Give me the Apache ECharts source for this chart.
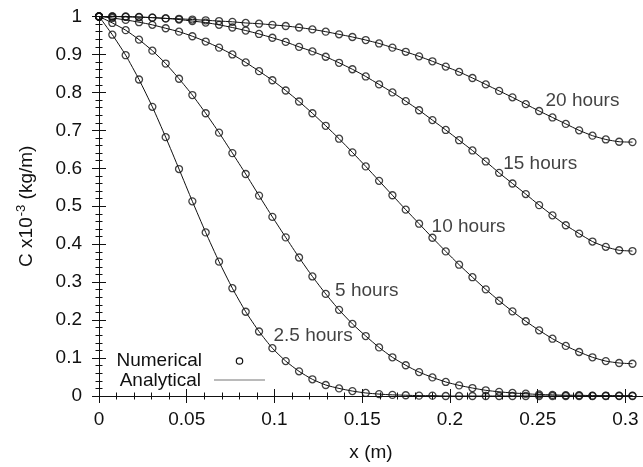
<!DOCTYPE html>
<html>
<head>
<meta charset="utf-8">
<script src="https://cdn.jsdelivr.net/npm/echarts@6/dist/echarts.min.js"></script>
<style>
html,body{margin:0;padding:0;background:#fff;}
#chart{width:643px;height:467px;}
</style>
</head>
<body>
<div id="chart"></div>
<script>
// x positions of the computed nodes (m)
const xs = [0, 0.0076, 0.0152, 0.0228, 0.0304, 0.038, 0.0456, 0.0532, 0.0608, 0.0684,
  0.076, 0.0836, 0.0912, 0.0988, 0.1064, 0.114, 0.1216, 0.1292, 0.1368, 0.1444,
  0.152, 0.1596, 0.1672, 0.1748, 0.1824, 0.19, 0.1976, 0.2052, 0.2128, 0.2204,
  0.228, 0.2356, 0.2432, 0.2508, 0.2584, 0.266, 0.2736, 0.2812, 0.2888, 0.2964, 0.304];

const c2_5h = [1.000, 0.952, 0.898, 0.834, 0.762, 0.682, 0.598, 0.513, 0.431, 0.354,
  0.284, 0.222, 0.170, 0.126, 0.092, 0.065, 0.044, 0.029, 0.020, 0.013,
  0.008, 0.005, 0.003, 0.002, 0.001, 0.001, 0, 0, 0, 0,
  0, 0, 0, 0, 0, 0, 0, 0, 0, 0, 0];

const c5h = [1.000, 0.983, 0.964, 0.939, 0.910, 0.876, 0.836, 0.793, 0.745, 0.694,
  0.640, 0.585, 0.528, 0.472, 0.418, 0.365, 0.315, 0.269, 0.227, 0.190,
  0.158, 0.128, 0.102, 0.081, 0.063, 0.049, 0.037, 0.028, 0.021, 0.015,
  0.011, 0.008, 0.006, 0.004, 0.003, 0.002, 0.002, 0.001, 0.001, 0.001, 0.001];

const c10h = [1.000, 0.996, 0.991, 0.985, 0.978, 0.969, 0.960, 0.948, 0.934, 0.918,
  0.900, 0.879, 0.856, 0.832, 0.805, 0.776, 0.745, 0.712, 0.678, 0.642,
  0.605, 0.567, 0.529, 0.491, 0.454, 0.417, 0.381, 0.346, 0.313, 0.281,
  0.251, 0.223, 0.197, 0.173, 0.151, 0.132, 0.116, 0.102, 0.092, 0.087, 0.085];

const c15h = [1.000, 1.000, 1.000, 0.999, 0.997, 0.995, 0.992, 0.988, 0.984, 0.978,
  0.971, 0.963, 0.954, 0.944, 0.933, 0.920, 0.908, 0.894, 0.878, 0.861,
  0.842, 0.821, 0.800, 0.777, 0.753, 0.727, 0.701, 0.674, 0.647, 0.618,
  0.588, 0.560, 0.532, 0.503, 0.476, 0.450, 0.428, 0.407, 0.393, 0.384, 0.382];

const c20h = [1.000, 1.000, 0.999, 0.998, 0.997, 0.995, 0.994, 0.992, 0.990, 0.988,
  0.986, 0.983, 0.981, 0.978, 0.975, 0.971, 0.966, 0.960, 0.953, 0.946,
  0.938, 0.929, 0.918, 0.907, 0.895, 0.882, 0.868, 0.854, 0.838, 0.821,
  0.804, 0.787, 0.769, 0.751, 0.734, 0.717, 0.700, 0.686, 0.676, 0.670, 0.669];

const curveNames = ['2.5 hours', '5 hours', '10 hours', '15 hours', '20 hours'];
const curveValues = [c2_5h, c5h, c10h, c15h, c20h];

// curve annotations: [text, x (m), C]
const curveLabels = [
  ['20 hours', 0.2755, 0.777],
  ['15 hours', 0.2514, 0.611],
  ['10 hours', 0.2106, 0.446],
  ['5 hours', 0.1526, 0.276],
  ['2.5 hours', 0.122, 0.160]
];

const legendNames = ['Numerical', 'Analytical'];

const FONT = '"Liberation Sans", Arial, Helvetica, sans-serif';
const INK = '#111';

const chart = echarts.init(document.getElementById('chart'), null, {renderer: 'canvas'});

const X_MAX = 0.31;
function fmt(v) { return String(+(+v).toFixed(2)); }

const xAxes = [
  { // bottom major
    type: 'value', position: 'bottom', min: 0, max: X_MAX, interval: 0.05,
    axisLine: {show: true, lineStyle: {color: INK, width: 1}},
    axisTick: {show: true, inside: true, length: 7, lineStyle: {color: INK}},
    axisLabel: {show: true, margin: 14, fontSize: 19, fontFamily: FONT, color: INK,
      showMaxLabel: false, formatter: fmt},
    splitLine: {show: false},
    name: 'x (m)', nameLocation: 'middle', nameGap: 47,
    nameTextStyle: {fontSize: 19, fontFamily: FONT, color: INK}
  },
  { // bottom minor
    type: 'value', position: 'bottom', min: 0, max: X_MAX, interval: 0.01,
    axisLine: {show: false},
    axisTick: {show: true, inside: true, length: 3.5, lineStyle: {color: INK}},
    axisLabel: {show: false}, splitLine: {show: false}
  },
  { // top major
    type: 'value', position: 'top', min: 0, max: X_MAX, interval: 0.05,
    axisLine: {show: true, lineStyle: {color: INK, width: 1}},
    axisTick: {show: true, inside: true, length: 7, lineStyle: {color: INK}},
    axisLabel: {show: false}, splitLine: {show: false}
  },
  { // top minor
    type: 'value', position: 'top', min: 0, max: X_MAX, interval: 0.01,
    axisLine: {show: false},
    axisTick: {show: true, inside: true, length: 3.5, lineStyle: {color: INK}},
    axisLabel: {show: false}, splitLine: {show: false}
  }
];

const yAxes = [
  { // left major
    type: 'value', position: 'left', min: 0, max: 1, interval: 0.1,
    axisLine: {show: true, lineStyle: {color: INK, width: 1}},
    axisTick: {show: true, inside: true, length: 7, lineStyle: {color: INK}},
    axisLabel: {show: true, margin: 17, fontSize: 19, fontFamily: FONT, color: INK, formatter: fmt},
    splitLine: {show: false},
    name: '{n|C x10}{s|-3}{n| (kg/m)}', nameLocation: 'middle', nameRotate: 90, nameGap: 60,
    nameTextStyle: {
      fontFamily: FONT, color: INK,
      rich: {
        n: {fontSize: 19, fontFamily: FONT, color: INK, lineHeight: 24},
        s: {fontSize: 13, fontFamily: FONT, color: INK, lineHeight: 24, verticalAlign: 'top', padding: [0, 0, 0, 1]}
      }
    }
  },
  { // left minor
    type: 'value', position: 'left', min: 0, max: 1, interval: 0.02,
    axisLine: {show: false},
    axisTick: {show: true, inside: true, length: 3.5, lineStyle: {color: INK}},
    axisLabel: {show: false}, splitLine: {show: false}
  },
  { // right major
    type: 'value', position: 'right', min: 0, max: 1, interval: 0.1,
    axisLine: {show: true, lineStyle: {color: INK, width: 1}},
    axisTick: {show: true, inside: true, length: 7, lineStyle: {color: INK}},
    axisLabel: {show: false}, splitLine: {show: false}
  },
  { // right minor
    type: 'value', position: 'right', min: 0, max: 1, interval: 0.02,
    axisLine: {show: false},
    axisTick: {show: true, inside: true, length: 3.5, lineStyle: {color: INK}},
    axisLabel: {show: false}, splitLine: {show: false}
  }
];

const series = [];
curveValues.forEach(function (vals, k) {
  const pts = xs.map(function (x, i) { return [x, vals[i]]; });
  series.push({
    name: legendNames[1] + ' ' + curveNames[k], type: 'line', data: pts,
    xAxisIndex: 0, yAxisIndex: 0,
    showSymbol: false, symbol: 'none', smooth: 0.2,
    lineStyle: {color: INK, width: 1}, z: 2, silent: true
  });
  series.push({
    name: legendNames[0] + ' ' + curveNames[k], type: 'scatter', data: pts,
    xAxisIndex: 0, yAxisIndex: 0,
    symbol: 'circle', symbolSize: 7,
    itemStyle: {color: 'rgba(0,0,0,0)', borderColor: INK, borderWidth: 1.3},
    z: 3, silent: true
  });
});

series.push({
  name: 'labels', type: 'scatter', xAxisIndex: 0, yAxisIndex: 0,
  symbolSize: 0, silent: true, z: 4,
  data: curveLabels.map(function (l) { return {name: l[0], value: [l[1], l[2]]}; }),
  label: {show: true, position: 'inside', formatter: '{b}', fontSize: 19, fontFamily: FONT, color: INK}
});

const option = {
  animation: false,
  backgroundColor: '#fff',
  grid: {left: 99, right: -3.5, top: 16.5, bottom: 68.5, containLabel: false},
  xAxis: xAxes,
  yAxis: yAxes,
  series: series,
  graphic: [
    {type: 'text', x: 202, y: 361, z: 10,
      style: {text: legendNames[0], font: '19px ' + FONT, fill: INK, align: 'right', verticalAlign: 'middle'}},
    {type: 'circle', shape: {cx: 239.5, cy: 361, r: 3.2}, z: 10,
      style: {fill: 'none', stroke: INK, lineWidth: 1.2}},
    {type: 'text', x: 201, y: 381, z: 10,
      style: {text: legendNames[1], font: '19px ' + FONT, fill: INK, align: 'right', verticalAlign: 'middle'}},
    {type: 'line', shape: {x1: 214, y1: 380, x2: 265, y2: 380}, z: 10,
      style: {stroke: '#777', lineWidth: 1.2}}
  ]
};

chart.setOption(option);
</script>
</body>
</html>
